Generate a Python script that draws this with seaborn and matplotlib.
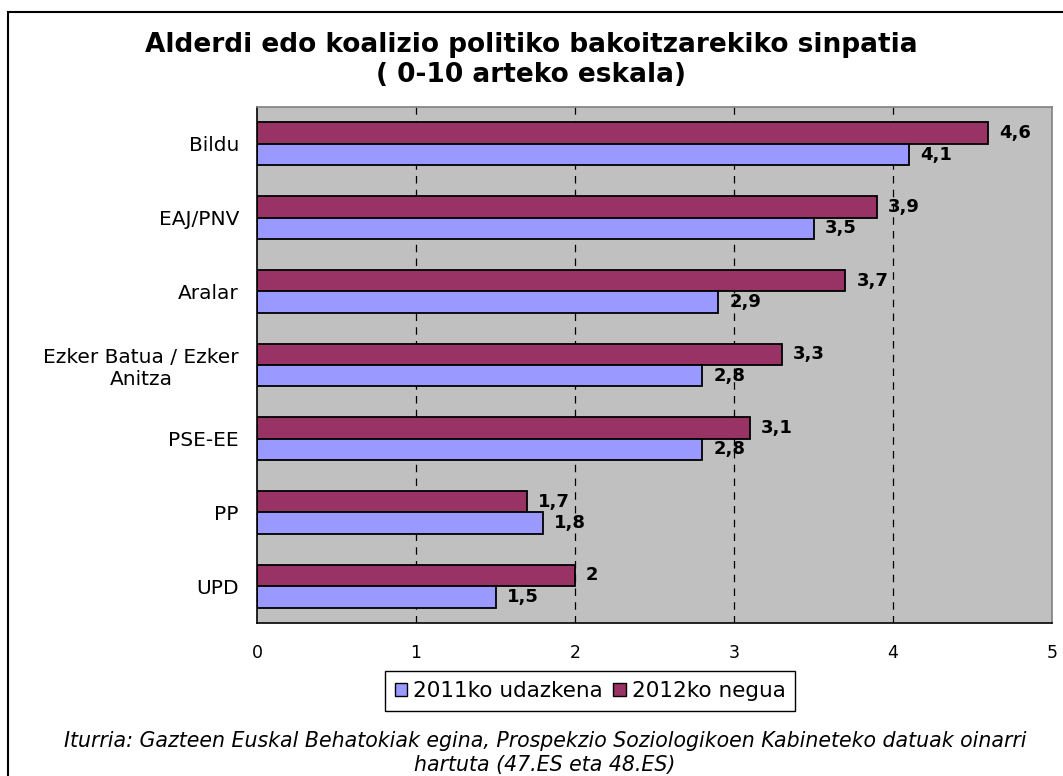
import pandas as pd
import matplotlib.pyplot as plt
import seaborn as sns
from matplotlib.patches import Patch, Rectangle

parties = ['Bildu', 'EAJ/PNV', 'Aralar', 'Ezker Batua / Ezker\nAnitza', 'PSE-EE', 'PP', 'UPD']
autumn_2011 = [4.1, 3.5, 2.9, 2.8, 2.8, 1.8, 1.5]
winter_2012 = [4.6, 3.9, 3.7, 3.3, 3.1, 1.7, 2.0]
series = ['2011ko udazkena', '2012ko negua']
colors = {'2011ko udazkena': '#9999FF', '2012ko negua': '#993366'}

df = pd.DataFrame({
    'Alderdia': parties * 2,
    'Balioa': autumn_2011 + winter_2012,
    'Neurketa': [series[0]] * len(parties) + [series[1]] * len(parties),
})

sns.set_style('white')
plt.rcParams['font.family'] = ['DejaVu Sans']
plt.rcParams['text.color'] = 'black'
plt.rcParams['xtick.color'] = 'black'
plt.rcParams['ytick.color'] = 'black'

fig = plt.figure(figsize=(10.63, 7.76), dpi=100)
ax = fig.add_axes([257 / 1063, 1 - 623 / 776, 795 / 1063, 516 / 776])
ax.set_facecolor('#C0C0C0')

sns.barplot(data=df, y='Alderdia', x='Balioa', hue='Neurketa', orient='h',
            hue_order=[series[1], series[0]], order=parties, palette=colors,
            saturation=1, width=0.58, gap=0, edgecolor='black', linewidth=1.3,
            legend=False, ax=ax)

for cont in ax.containers:
    labels = [f'{b.get_width():g}'.replace('.', ',') for b in cont]
    ax.bar_label(cont, labels=labels, padding=8, fontsize=13, fontweight='bold')

ax.set_xlim(0, 5)
ax.set_ylim(len(parties) - 0.5, -0.5)
ax.set_xticks(range(6))
ax.set_xticklabels([str(i) for i in range(6)], fontsize=12.5)
ax.tick_params(axis='x', direction='out', length=5, width=1, color='black', pad=10)
ax.tick_params(axis='y', which='major', length=0, pad=13, labelsize=14.5)
for lab in ax.get_yticklabels():
    lab.set_multialignment('center')
ax.set_yticks([i - 0.5 for i in range(len(parties) + 1)], minor=True)
ax.tick_params(axis='y', which='minor', direction='out', length=6, width=1, color='black')
for x in range(1, 5):
    ax.axvline(x, color='black', linestyle=(0, (6, 5)), linewidth=0.9, zorder=0.5)
ax.set_xlabel('')
ax.set_ylabel('')
for side in ['left', 'bottom']:
    ax.spines[side].set_color('black')
    ax.spines[side].set_linewidth(1.2)
for side in ['top', 'right']:
    ax.spines[side].set_color('#808080')
    ax.spines[side].set_linewidth(1.2)

fig.text(531 / 1063, 1 - 60 / 776,
         'Alderdi edo koalizio politiko bakoitzarekiko sinpatia\n( 0-10 arteko eskala)',
         ha='center', va='center', fontsize=19, fontweight='bold', linespacing=1.2)

handles = [Patch(facecolor=colors[s], edgecolor='black', linewidth=1) for s in series]
leg = fig.legend(handles, series, loc='center', bbox_to_anchor=(590 / 1063, 1 - 691 / 776),
                 ncol=2, fontsize=15.5, frameon=True, fancybox=False, framealpha=1,
                 edgecolor='black', handlelength=0.6, handleheight=0.6, handletextpad=0.25,
                 columnspacing=0.5, borderpad=0.45)
leg.get_frame().set_linewidth(1)

fig.text(545 / 1063, 1 - 753 / 776,
         'Iturria: Gazteen Euskal Behatokiak egina, Prospekzio Soziologikoen Kabineteko datuak oinarri\nhartuta (47.ES eta 48.ES)',
         ha='center', va='center', fontsize=14.8, style='italic', linespacing=1.2)

fig.patches.append(Rectangle((8 / 1063, -0.1), 1.1, 1 - 12 / 776 + 0.1,
                             transform=fig.transFigure, fill=False,
                             edgecolor='black', linewidth=1.5, zorder=-1))

fig.savefig('out.png', dpi=100)
